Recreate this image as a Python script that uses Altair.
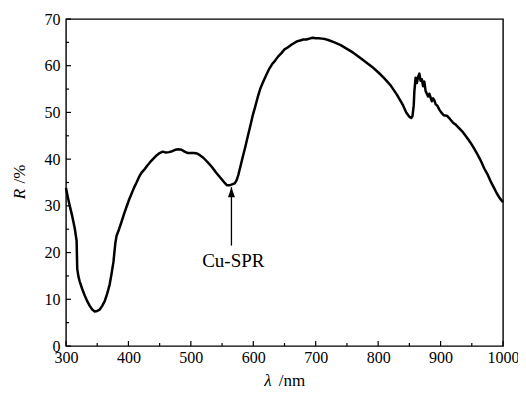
import altair as alt
import pandas as pd

wavelength = [300, 303, 306, 310, 314, 317, 318, 320, 322, 326, 330, 334, 338, 342, 346, 350, 354, 358, 362, 366,
              370, 373, 376, 379, 381, 385, 389, 393, 397, 401, 405, 409, 413, 417, 421, 425, 430, 435, 440, 445,
              450, 455, 460, 465, 470, 475, 480, 485, 490, 495, 500, 505, 510, 515, 520, 525, 530, 535, 540, 545,
              550, 555, 558, 562, 566, 570, 573, 576, 579, 583, 587, 591, 595, 599, 603, 607, 611, 615, 620, 625,
              630, 635, 640, 645, 650, 655, 660, 665, 670, 675, 680, 685, 690, 695, 700, 705, 710, 715, 720, 730,
              740, 750, 760, 770, 780, 790, 800, 810, 820, 830, 840, 845, 850, 853, 855, 857, 858, 860, 862, 864,
              866, 868, 870, 872, 874, 876, 878, 880, 882, 884, 886, 888, 890, 892, 895, 898, 901, 905, 910, 915,
              920, 925, 930, 935, 940, 945, 950, 955, 960, 965, 970, 975, 980, 985, 990, 995, 1000]
reflectance = [33.8, 31.8, 30.0, 27.8, 25.2, 22.5, 16.5, 14.8, 13.8, 12.2, 10.8, 9.6, 8.6, 7.8, 7.4, 7.5, 7.8, 8.6, 9.6, 11.2,
               13.2, 15.5, 18.0, 22.0, 23.6, 25.0, 26.6, 28.3, 29.8, 31.3, 32.6, 33.9, 35.0, 36.2, 37.1, 37.7, 38.6, 39.4, 40.1, 40.8,
               41.3, 41.6, 41.4, 41.5, 41.7, 42.0, 42.1, 42.0, 41.6, 41.3, 41.3, 41.3, 41.2, 40.8, 40.3, 39.6, 38.9, 38.1, 37.2, 36.4,
               35.6, 34.8, 34.4, 34.4, 34.6, 34.8, 35.4, 36.6, 38.2, 40.4, 42.5, 44.8, 47.0, 49.3, 51.2, 53.2, 55.0, 56.3, 57.8, 59.2,
               60.3, 61.1, 62.0, 62.7, 63.5, 63.9, 64.4, 64.8, 65.2, 65.4, 65.6, 65.6, 65.8, 66.0, 65.9, 65.9, 65.8, 65.7, 65.5, 65.0,
               64.4, 63.6, 62.8, 61.8, 60.8, 59.8, 58.6, 57.3, 55.8, 53.8, 51.5, 50.0, 49.1, 48.8, 49.2, 51.5, 54.5, 57.4, 56.3, 57.6,
               58.3, 56.8, 57.1, 55.6, 56.6, 54.6, 54.0, 53.4, 54.0, 53.2, 52.4, 53.0, 52.6, 51.8, 51.4, 50.6, 50.0, 49.4, 49.3, 48.6,
               47.8, 47.3, 46.6, 45.9, 45.0, 44.1, 43.1, 42.0, 40.8, 39.5, 38.0, 36.8, 35.3, 34.0, 32.7, 31.6, 30.8]

x_major = list(range(300, 1001, 100))
x_minor = list(range(350, 1000, 100))
y_major = list(range(0, 71, 10))
y_minor = list(range(5, 70, 10))

arrow_x = [565]
arrow_tip = [34.0]
arrow_tail = [21.5]
label_x = [568]
label_y = [18.2]
label_text = ["Cu-SPR"]

W, H = 437, 327
FONT = "Liberation Serif"

xs = alt.Scale(domain=[300, 1000], nice=False, zero=False)
ys = alt.Scale(domain=[0, 70], nice=False, zero=True)
xa = alt.Axis(values=x_major, title=None, domain=False, ticks=False, grid=False, format="d",
              labelFont=FONT, labelFontSize=16, labelColor="black", labelPadding=3,
              labelFlush=False, labelOverlap=False)
ya = alt.Axis(values=y_major, title=None, domain=False, ticks=False, grid=False, format="d",
              labelFont=FONT, labelFontSize=16, labelColor="black", labelPadding=6,
              labelFlush=False, labelOverlap=False)

df = pd.DataFrame({"wl": wavelength, "R": reflectance})

line = alt.Chart(df).mark_line(color="black", strokeWidth=2.5, strokeJoin="round").encode(
    x=alt.X("wl:Q", scale=xs, axis=xa),
    y=alt.Y("R:Q", scale=ys, axis=ya),
)

def xticks(vals, length):
    return alt.Chart(pd.DataFrame({"wl": vals})).mark_rule(color="black", strokeWidth=1.2).encode(
        x=alt.X("wl:Q", scale=xs, axis=xa), y=alt.value(H), y2=alt.value(H - length))

def yticks(vals, length):
    return alt.Chart(pd.DataFrame({"R": vals})).mark_rule(color="black", strokeWidth=1.2).encode(
        y=alt.Y("R:Q", scale=ys, axis=ya), x=alt.value(0), x2=alt.value(length))

adf = pd.DataFrame({"wl": arrow_x, "R": arrow_tip, "tail": arrow_tail})
arrow_shaft = alt.Chart(adf).mark_rule(color="black", strokeWidth=1.3).encode(
    x=alt.X("wl:Q", scale=xs, axis=xa), y=alt.Y("tail:Q", scale=ys, axis=ya), y2="R:Q")
arrow_head = alt.Chart(adf).mark_point(shape="M0,0L0.7,2L-0.7,2Z", filled=True, color="black", opacity=1, size=100).encode(
    x=alt.X("wl:Q", scale=xs, axis=xa), y=alt.Y("R:Q", scale=ys, axis=ya))

ldf = pd.DataFrame({"wl": label_x, "R": label_y, "t": label_text})
label = alt.Chart(ldf).mark_text(font=FONT, fontSize=19, color="black", align="center", baseline="middle").encode(
    x=alt.X("wl:Q", scale=xs, axis=xa), y=alt.Y("R:Q", scale=ys, axis=ya), text="t:N")

def txt(s, x, y, style="normal", angle=0, size=17):
    kw = dict(font=FONT, fontSize=size, color="black", align="center", baseline="middle", fontStyle=style)
    if angle:
        kw["angle"] = angle
    return alt.Chart(pd.DataFrame({"t": [s]})).mark_text(**kw).encode(
        x=alt.value(x), y=alt.value(y), text="t:N")

titles = [
    txt("R", -46, 175, "italic", 270),
    txt("/%", -46, 155, "normal", 270),
    txt("λ", 202, 362, "italic"),
    txt("/nm", 226, 362, "normal"),
]

chart = alt.layer(
    line, xticks(x_major, 5), xticks(x_minor, 3), yticks(y_major, 5), yticks(y_minor, 3),
    arrow_shaft, arrow_head, label, *titles
).properties(
    width=W, height=H, autosize="none",
    padding={"left": 58, "top": 11, "right": 15, "bottom": 45},
).configure_view(stroke="black", strokeWidth=1.4).configure_axis(labelFont=FONT)

chart.save("out.html", embed_options={"renderer": "svg", "actions": False})
